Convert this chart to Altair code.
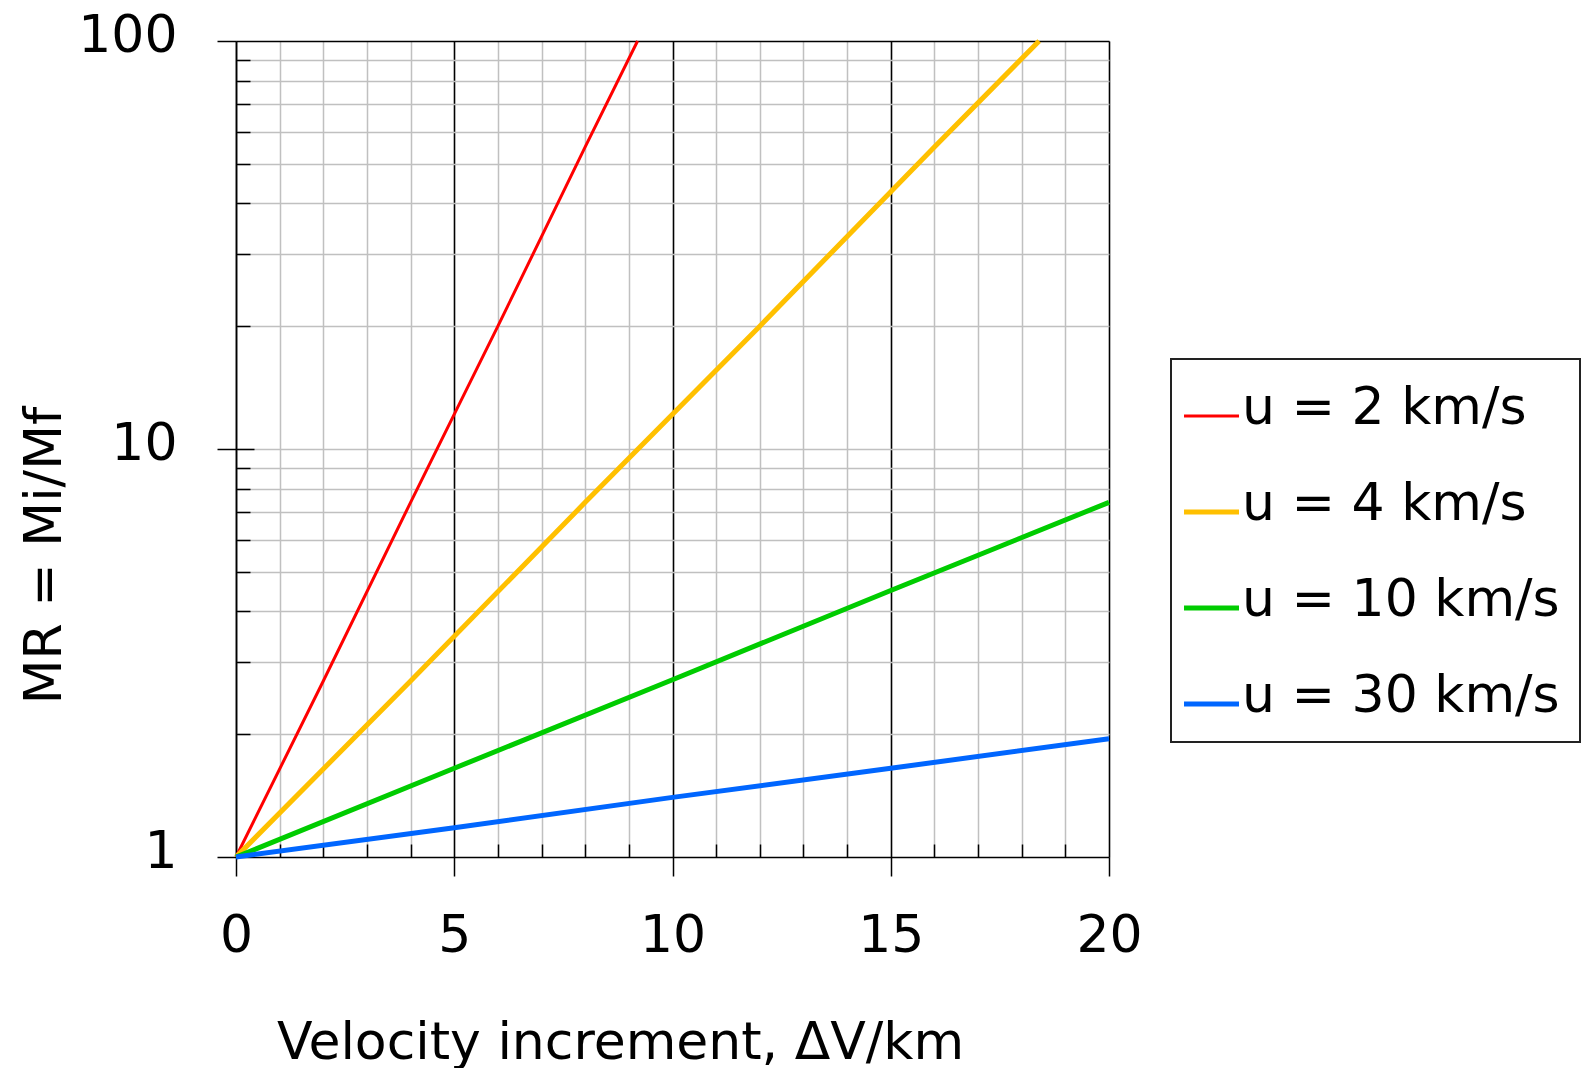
import altair as alt
import pandas as pd

# ---- data ----
series = ["u = 2 km/s", "u = 4 km/s", "u = 10 km/s", "u = 30 km/s"]
colors = ["#ff0000", "#ffc000", "#00cc00", "#0066ff"]
widths = [3, 5, 5, 5]

dv_u2 = [0, 2, 4, 6, 8, 9.2]
mr_u2 = [1, 2.7, 7.4, 20, 55, 100]
dv_u4 = [0, 4, 8, 12, 16, 18.4]
mr_u4 = [1, 2.7, 7.4, 20, 55, 100]
dv_u10 = [0, 5, 10, 15, 20]
mr_u10 = [1, 1.65, 2.72, 4.5, 7.4]
dv_u30 = [0, 5, 10, 15, 20]
mr_u30 = [1, 1.18, 1.4, 1.65, 1.95]

x_major = [0, 5, 10, 15, 20]
x_minor = list(range(0, 21))
x_minor_in = [v for v in range(1, 20) if v % 5 != 0]
y_major = [1, 10, 100]
y_minor = [2, 3, 4, 5, 6, 7, 8, 9, 20, 30, 40, 50, 60, 70, 80, 90]

rows = []
for name, xs_, ys_ in zip(series, [dv_u2, dv_u4, dv_u10, dv_u30], [mr_u2, mr_u4, mr_u10, mr_u30]):
    for a, b in zip(xs_, ys_):
        rows.append({"series": name, "dv": a, "mr": b})
df = pd.DataFrame(rows)

W, H = 873, 816
FONT = "DejaVu Sans"
GRAY = "#c0c0c0"

xscale = alt.Scale(domain=[0, 20], nice=False, zero=False)
yscale = alt.Scale(type="log", domain=[1, 100], nice=False)

base = alt.Chart(df)


def ghost(xaxis, yaxis):
    return base.mark_line(strokeOpacity=0).encode(
        x=alt.X("dv:Q", scale=xscale, axis=xaxis),
        y=alt.Y("mr:Q", scale=yscale, axis=yaxis),
        detail="series:N",
    )


grid_minor = ghost(
    alt.Axis(orient="bottom", values=x_minor, grid=True, gridColor=GRAY, gridWidth=1.5,
             ticks=False, labels=False, domain=False, title=None),
    alt.Axis(orient="left", values=y_minor + [10], grid=True, gridColor=GRAY, gridWidth=1.5,
             ticks=False, labels=False, domain=False, title=None),
)

grid_major = ghost(
    alt.Axis(orient="bottom", values=x_major, grid=True, gridColor="black", gridWidth=1.5,
             ticks=False, labels=False, domain=False, title=None),
    alt.Axis(orient="left", values=[100], grid=True, gridColor="black", gridWidth=1.5,
             ticks=False, labels=False, domain=False, title=None),
)

ticks_in = ghost(
    alt.Axis(orient="top", offset=-H, values=x_minor_in, grid=False, ticks=True, tickSize=13,
             tickColor="black", tickWidth=1.5, labels=False, domain=False, title=None),
    alt.Axis(orient="right", offset=-W, values=y_minor, grid=False, ticks=True, tickSize=14,
             tickColor="black", tickWidth=1.5, labels=False, domain=False, title=None),
)

ticks_in10 = ghost(
    None,
    alt.Axis(orient="right", offset=-W, values=[10], grid=False, ticks=True, tickSize=18,
             tickColor="black", tickWidth=1.5, labels=False, domain=False, title=None),
)

legend = alt.Legend(
    title=None, orient="none", legendX=935, legendY=318,
    labelFontSize=52, labelFont=FONT, labelColor="black", labelLimit=1000,
    symbolType="M-1.364,0.318H0.692", symbolSize=2862, rowPadding=40, padding=20,
    strokeColor="#222222", fillColor="white", labelOffset={"expr": "-8"},
)

lines = base.mark_line().encode(
    x=alt.X("dv:Q", scale=xscale, axis=alt.Axis(
        orient="bottom", values=x_major, grid=False, tickSize=19, tickColor="black", tickWidth=1.5,
        domainColor="black", domainWidth=1.5, labelFontSize=52, labelFont=FONT, labelColor="black",
        labelPadding=34, labelFlush=False, labelOverlap=False, format="d",
        title="Velocity increment, ΔV/km", titleFontSize=52, titleFont=FONT, titleFontWeight="normal",
        titleColor="black", titleX=384, titleY=201, titleAlign="center", titleBaseline="alphabetic",
        titleAngle=0)),
    y=alt.Y("mr:Q", scale=yscale, axis=alt.Axis(
        orient="left", values=y_major, grid=False, tickSize=19, tickColor="black", tickWidth=1.5,
        domainColor="black", domainWidth=1.5, labelFontSize=52, labelFont=FONT, labelColor="black",
        labelPadding=40, labelFlush=False, labelOverlap=False, format="d", labelOffset=-6,
        title="MR = Mi/Mf", titleFontSize=52, titleFont=FONT, titleFontWeight="normal",
        titleColor="black", titleX=-176, titleY=514, titleAlign="center", titleBaseline="alphabetic",
        titleAngle=270)),
    color=alt.Color("series:N", scale=alt.Scale(domain=series, range=colors), legend=legend),
    strokeWidth=alt.StrokeWidth("series:N", scale=alt.Scale(type="ordinal", domain=series, range=widths),
                                legend=legend),
)

chart = (
    alt.layer(grid_minor, grid_major, ticks_in, ticks_in10, lines)
    .resolve_axis(x="independent", y="independent")
    .properties(
        width=W, height=H,
        autosize=alt.AutoSizeParams(type="none"),
        padding={"left": 236, "top": 41, "right": 1587 - 236 - W, "bottom": 1068 - 41 - H},
        background="white",
    )
    .configure(font=FONT)
    .configure_legend(strokeWidth=2)
    .configure_view(stroke=None)
)

chart.save("out.html", embed_options={"renderer": "svg", "actions": False})
